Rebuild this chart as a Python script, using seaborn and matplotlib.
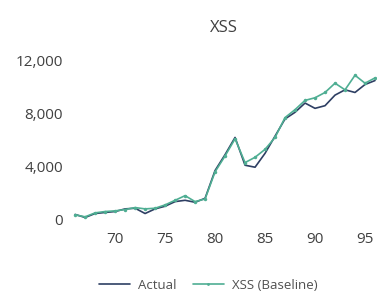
import matplotlib
matplotlib.use("Agg")
import matplotlib.pyplot as plt
import seaborn as sns
import pandas as pd
from matplotlib.ticker import FuncFormatter

years = list(range(66, 97))
actual = [380, 150, 450, 530, 600, 800, 850, 450, 800, 1000, 1350, 1450, 1300, 1600,
          3700, 4900, 6200, 4100, 3950, 5000, 6300, 7600, 8100, 8800, 8400, 8600,
          9400, 9800, 9600, 10200, 10500]
baseline = [350, 200, 500, 600, 650, 750, 900, 800, 850, 1100, 1450, 1800, 1350, 1550,
            3600, 4800, 6100, 4300, 4700, 5300, 6200, 7700, 8300, 9000, 9200, 9600,
            10300, 9800, 10900, 10300, 10700]
series_names = ["Actual", "XSS (Baseline)"]
title = "XSS"
yticks = [0, 4000, 8000, 12000]
xticks = [70, 75, 80, 85, 90, 95]

df = pd.DataFrame({"year": years * 2,
                   "value": actual + baseline,
                   "series": [series_names[0]] * len(years) + [series_names[1]] * len(years)})

sns.set_theme(style="white")
plt.rcParams["font.family"] = ["Open Sans", "DejaVu Sans"]

fig = plt.figure(figsize=(3.77, 2.94), dpi=100)
ax = fig.add_axes([0.186, 0.231, 0.814, 0.63])

palette = {series_names[0]: "#2e3f63", series_names[1]: "#4fae93"}
sns.lineplot(data=df[df.series == series_names[0]], x="year", y="value", ax=ax,
             color=palette[series_names[0]], linewidth=1.2, label=series_names[0])
sns.lineplot(data=df[df.series == series_names[1]], x="year", y="value", ax=ax,
             color=palette[series_names[1]], linewidth=1.2, marker="o", markersize=2.5,
             markeredgewidth=0, label=series_names[1])

ax.set_xlim(65.5, 96.2)
ax.set_ylim(-500, 13500)
ax.set_xticks(xticks)
ax.set_yticks(yticks)
ax.yaxis.set_major_formatter(FuncFormatter(lambda v, p: f"{int(v):,}"))
ax.tick_params(axis="both", labelsize=11, colors="#404040", length=0)
ax.tick_params(axis="y", pad=5)
ax.tick_params(axis="x", pad=4)
ax.set_xlabel("")
ax.set_ylabel("")
for s in ax.spines.values():
    s.set_visible(False)
ax.text(0.5, 1.0 + 13 / 185, title, transform=ax.transAxes, ha="center", va="center",
        fontsize=12, color="#404040")

leg = ax.legend(loc="center", bbox_to_anchor=(0.45, -0.32), ncol=2, frameon=False,
                fontsize=9.5, handlelength=2.4, columnspacing=1.2, markerscale=0.8,
                handletextpad=0.6)
for t in leg.get_texts():
    t.set_color("#505050")

fig.savefig("out.png", dpi=100)
